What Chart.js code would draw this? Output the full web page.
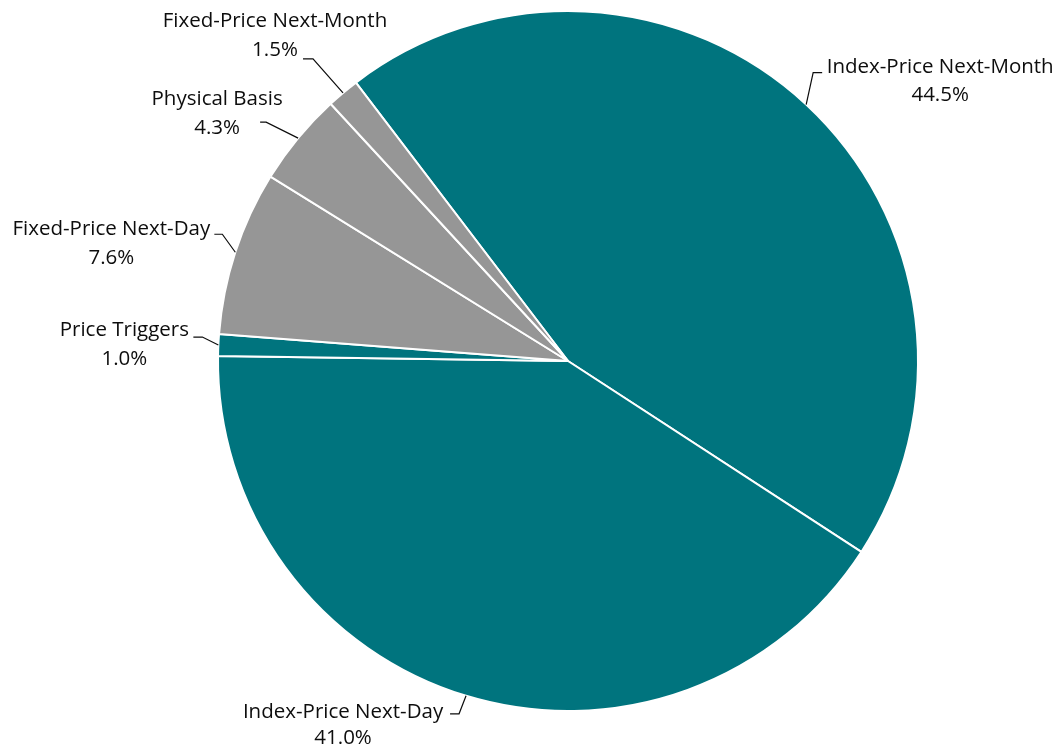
<!DOCTYPE html>
<html>
<head>
<meta charset="utf-8">
<title>Natural gas price-setting methods</title>
<script src="https://cdn.jsdelivr.net/npm/chart.js@4.4.0/dist/chart.umd.min.js"></script>
<style>
  html, body { margin: 0; padding: 0; background: #ffffff; }
  canvas { display: block; }
</style>
</head>
<body>
<canvas id="pie" width="1060" height="746"></canvas>
<script>
// Categories, in drawing order (clockwise)
const categories = [
  'Index-Price Next-Month',
  'Index-Price Next-Day',
  'Price Triggers',
  'Fixed-Price Next-Day',
  'Physical Basis',
  'Fixed-Price Next-Month'
];
// Share of each category, percent
const shares = [44.5, 41.0, 1.0, 7.6, 4.3, 1.5];
// Fill colour per category
const sliceColors = ['#00747E', '#00747E', '#00747E', '#969696', '#969696', '#969696'];

// Leader-line and label placement, relative to the slice's outer edge midpoint
const labelLayout = [
  { elbow: [7, -32],   tailX: 16,  textX: 134,  line1Y: -37, line2Y: -9 },
  { elbow: [-7, 18],   tailX: -16, textX: -123, line1Y: 16,  line2Y: 42 },
  { elbow: [-16, -8],  tailX: -25, textX: -94,  line1Y: -15, line2Y: 14 },
  { elbow: [-13, -18], tailX: -21, textX: -124, line1Y: -23, line2Y: 6 },
  { elbow: [-32, -16], tailX: -38, textX: -81,  line1Y: -39, line2Y: -10 },
  { elbow: [-30, -34], tailX: -40, textX: -68,  line1Y: -72, line2Y: -43 }
];

const outsideLabels = {
  id: 'outsideLabels',
  afterDatasetsDraw(chart) {
    const ctx = chart.ctx;
    const arcs = chart.getDatasetMeta(0).data;
    ctx.save();
    ctx.font = '20.5px "Open Sans", sans-serif';
    ctx.fillStyle = '#0d0d0d';
    ctx.strokeStyle = '#0d0d0d';
    ctx.lineWidth = 1.2;
    ctx.textAlign = 'center';
    ctx.textBaseline = 'middle';
    arcs.forEach((arc, i) => {
      const p = arc.getProps(['x', 'y', 'startAngle', 'endAngle', 'outerRadius'], true);
      const mid = (p.startAngle + p.endAngle) / 2;
      const ex = p.x + Math.cos(mid) * p.outerRadius;
      const ey = p.y + Math.sin(mid) * p.outerRadius;
      const L = labelLayout[i];
      ctx.beginPath();
      ctx.moveTo(ex, ey);
      ctx.lineTo(ex + L.elbow[0], ey + L.elbow[1]);
      ctx.lineTo(ex + L.tailX, ey + L.elbow[1]);
      ctx.stroke();
      ctx.fillText(categories[i], ex + L.textX, ey + L.line1Y);
      ctx.fillText(shares[i].toFixed(1) + '%', ex + L.textX, ey + L.line2Y);
    });
    ctx.restore();
  }
};

new Chart(document.getElementById('pie'), {
  type: 'pie',
  data: {
    labels: categories,
    datasets: [{
      data: shares,
      backgroundColor: sliceColors,
      borderColor: '#ffffff',
      borderWidth: 2
    }]
  },
  options: {
    responsive: false,
    animation: false,
    rotation: -37.3,
    radius: 350,
    layout: { padding: { left: 100, right: 24, top: 10, bottom: 34 } },
    plugins: {
      legend: { display: false },
      tooltip: { enabled: false }
    }
  },
  plugins: [outsideLabels]
});
</script>
</body>
</html>
